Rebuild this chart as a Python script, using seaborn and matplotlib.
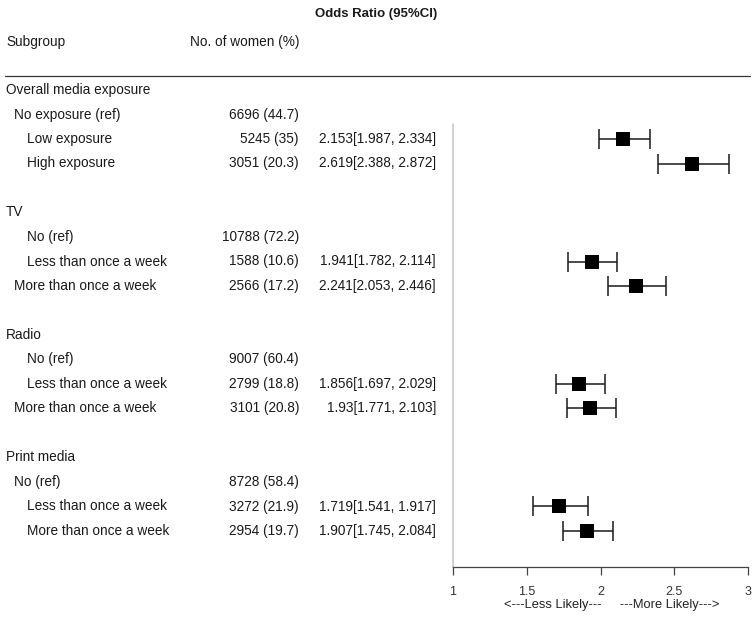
import matplotlib
matplotlib.use("Agg")
import matplotlib.pyplot as plt
import seaborn as sns
import pandas as pd

# row labels, indent level (0 = group header), counts and odds ratios
labels = ["Overall media exposure", "No exposure (ref)", "Low exposure", "High exposure", "",
          "TV", "No (ref)", "Less than once a week", "More than once a week", "",
          "Radio", "No (ref)", "Less than once a week", "More than once a week", "",
          "Print media", "No (ref)", "Less than once a week", "More than once a week"]
indent = [0, 1, 2, 2, 0,
          0, 2, 2, 1, 0,
          0, 2, 2, 1, 0,
          0, 1, 2, 2]
women = ["", "6696 (44.7)", "5245 (35)", "3051 (20.3)", "",
         "", "10788 (72.2)", "1588 (10.6)", "2566 (17.2)", "",
         "", "9007 (60.4)", "2799 (18.8)", "3101 (20.8)", "",
         "", "8728 (58.4)", "3272 (21.9)", "2954 (19.7)"]
or_rows = [2, 3, 7, 8, 12, 13, 17, 18]
or_est = [2.153, 2.619, 1.941, 2.241, 1.856, 1.93, 1.719, 1.907]
or_low = [1.987, 2.388, 1.782, 2.053, 1.697, 1.771, 1.541, 1.745]
or_high = [2.334, 2.872, 2.114, 2.446, 2.029, 2.103, 1.917, 2.084]
or_text = ["2.153[1.987, 2.334]", "2.619[2.388, 2.872]", "1.941[1.782, 2.114]",
           "2.241[2.053, 2.446]", "1.856[1.697, 2.029]", "1.93[1.771, 2.103]",
           "1.719[1.541, 1.917]", "1.907[1.745, 2.084]"]
x_ticks = [1, 1.5, 2, 2.5, 3]

df = pd.DataFrame({"row": or_rows, "est": or_est, "low": or_low, "high": or_high})

sns.set_style("white")
plt.rcParams["font.family"] = ["Liberation Sans", "DejaVu Sans"]

W, H = 756, 617
fig = plt.figure(figsize=(W / 100, H / 100), dpi=100)

# forest panel in pixel coordinates of the reference
left_px, right_px, top_px, bot_px = 453, 748, 76, 567
ax = fig.add_axes([left_px / W, 1 - bot_px / H, (right_px - left_px) / W, (bot_px - top_px) / H])
row0_px, row_step = 90, 24.5
ax.set_ylim((bot_px - row0_px) / row_step, (top_px - row0_px) / row_step)
ax.set_xlim(1, 3)

ax.errorbar(df["est"], df["row"],
            xerr=[df["est"] - df["low"], df["high"] - df["est"]],
            fmt="none", ecolor="#1a1a1a", elinewidth=1.1, capsize=7, capthick=1.1)
sns.scatterplot(data=df, x="est", y="row", marker="s", s=95, color="black",
                edgecolor="black", linewidth=0, ax=ax, zorder=3)

for s in ["top", "right", "left"]:
    ax.spines[s].set_visible(False)
ax.spines["bottom"].set_color("#444444")
ax.spines["bottom"].set_linewidth(0.9)
ax.plot([1, 1], [1.4, ax.get_ylim()[0]], color="#c8c8c8", lw=1.2, clip_on=False)

ax.set_xticks(x_ticks)
ax.set_xticklabels([f"{t:g}" for t in x_ticks])
ax.tick_params(axis="x", bottom=True, direction="out", length=6, width=0.9,
               color="#444444", labelsize=9, labelcolor="#333333", pad=8)
ax.set_yticks([])
ax.set_xlabel("<---Less Likely---     ---More Likely--->", fontsize=9.3,
              color="#222222")
ax.xaxis.set_label_coords((612 - left_px) / (right_px - left_px), -0.065)
ax.xaxis.label.set_verticalalignment("top")
ax.set_ylabel("")

# text columns placed with x in axes fraction, y in data rows
tr = ax.get_yaxis_transform()
def ax_x(px):
    return (px - left_px) / (right_px - left_px)

indent_px = {0: 6, 1: 14, 2: 27}
fs = 9.8
for i, (lab, lev, n) in enumerate(zip(labels, indent, women)):
    if lab:
        ax.text(ax_x(indent_px[lev]), i, lab, transform=tr, ha="left", va="center",
                fontsize=fs, color="#1a1a1a", clip_on=False)
    if n:
        ax.text(ax_x(299), i, n, transform=tr, ha="right", va="center",
                fontsize=fs, color="#1a1a1a", clip_on=False)
for r, t in zip(or_rows, or_text):
    ax.text(ax_x(436), r, t, transform=tr, ha="right", va="center",
            fontsize=fs, color="#1a1a1a", clip_on=False)

# headers
fig.text(376 / W, 1 - 14 / H, "Odds Ratio (95%CI)", ha="center", va="center",
         fontsize=9.5, fontweight="bold", color="#1a1a1a")
fig.text(6 / W, 1 - 42 / H, "Subgroup", ha="left", va="center", fontsize=fs, color="#1a1a1a")
fig.text(299 / W, 1 - 42 / H, "No. of women (%)", ha="right", va="center", fontsize=fs,
         color="#1a1a1a")
fig.add_artist(plt.Line2D([5 / W, 750 / W], [1 - 76 / H, 1 - 76 / H], color="#333333", lw=0.9))

fig.savefig("out.png", dpi=100)
